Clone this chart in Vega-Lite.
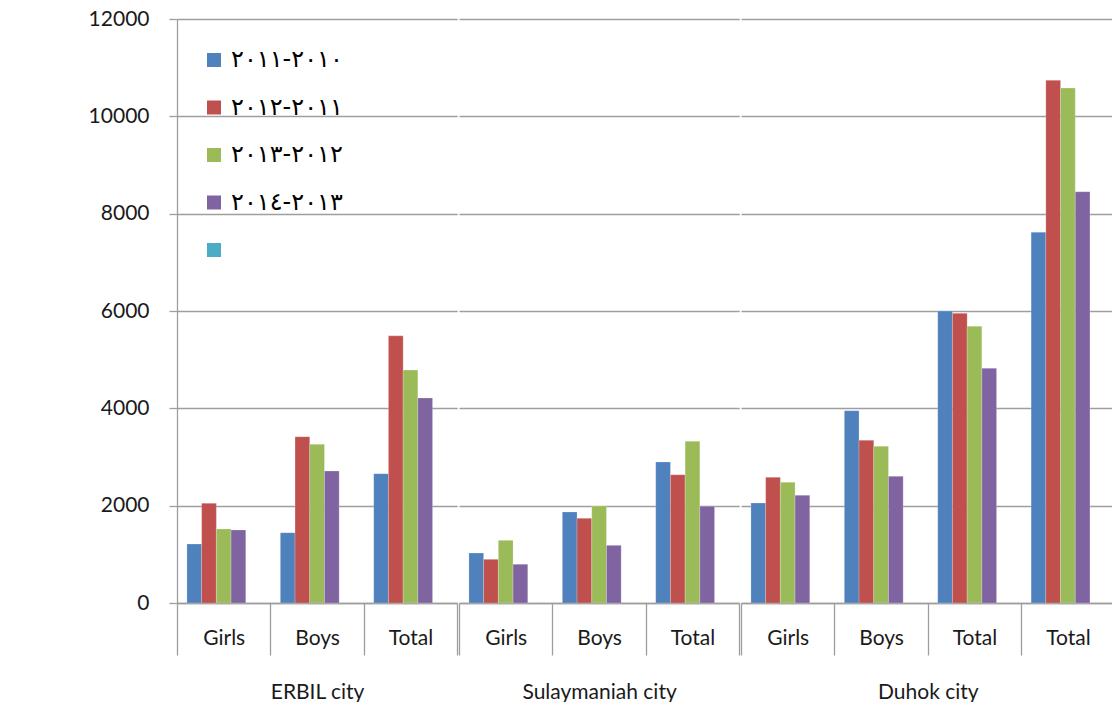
{
  "$schema": "https://vega.github.io/schema/vega-lite/v6.json",
  "padding": {"left": 88, "top": 8, "right": 0, "bottom": 0},
  "background": "white",
  "data": {"values": [
    {"city": "ERBIL city", "cat": "Girls", "period": "٢٠١٠-٢٠١١", "value": 1212},
    {"city": "ERBIL city", "cat": "Girls", "period": "٢٠١١-٢٠١٢", "value": 2048},
    {"city": "ERBIL city", "cat": "Girls", "period": "٢٠١٢-٢٠١٣", "value": 1520},
    {"city": "ERBIL city", "cat": "Girls", "period": "٢٠١٣-٢٠١٤", "value": 1500},
    {"city": "ERBIL city", "cat": "Boys", "period": "٢٠١٠-٢٠١١", "value": 1445},
    {"city": "ERBIL city", "cat": "Boys", "period": "٢٠١١-٢٠١٢", "value": 3418},
    {"city": "ERBIL city", "cat": "Boys", "period": "٢٠١٢-٢٠١٣", "value": 3260},
    {"city": "ERBIL city", "cat": "Boys", "period": "٢٠١٣-٢٠١٤", "value": 2712},
    {"city": "ERBIL city", "cat": "Total", "period": "٢٠١٠-٢٠١١", "value": 2657},
    {"city": "ERBIL city", "cat": "Total", "period": "٢٠١١-٢٠١٢", "value": 5490},
    {"city": "ERBIL city", "cat": "Total", "period": "٢٠١٢-٢٠١٣", "value": 4787},
    {"city": "ERBIL city", "cat": "Total", "period": "٢٠١٣-٢٠١٤", "value": 4212},
    {"city": "Sulaymaniah city", "cat": "Girls", "period": "٢٠١٠-٢٠١١", "value": 1027},
    {"city": "Sulaymaniah city", "cat": "Girls", "period": "٢٠١١-٢٠١٢", "value": 898},
    {"city": "Sulaymaniah city", "cat": "Girls", "period": "٢٠١٢-٢٠١٣", "value": 1288},
    {"city": "Sulaymaniah city", "cat": "Girls", "period": "٢٠١٣-٢٠١٤", "value": 795},
    {"city": "Sulaymaniah city", "cat": "Boys", "period": "٢٠١٠-٢٠١١", "value": 1870},
    {"city": "Sulaymaniah city", "cat": "Boys", "period": "٢٠١١-٢٠١٢", "value": 1740},
    {"city": "Sulaymaniah city", "cat": "Boys", "period": "٢٠١٢-٢٠١٣", "value": 1993},
    {"city": "Sulaymaniah city", "cat": "Boys", "period": "٢٠١٣-٢٠١٤", "value": 1185},
    {"city": "Sulaymaniah city", "cat": "Total", "period": "٢٠١٠-٢٠١١", "value": 2897},
    {"city": "Sulaymaniah city", "cat": "Total", "period": "٢٠١١-٢٠١٢", "value": 2636},
    {"city": "Sulaymaniah city", "cat": "Total", "period": "٢٠١٢-٢٠١٣", "value": 3322},
    {"city": "Sulaymaniah city", "cat": "Total", "period": "٢٠١٣-٢٠١٤", "value": 1986},
    {"city": "Duhok city", "cat": "Girls", "period": "٢٠١٠-٢٠١١", "value": 2055},
    {"city": "Duhok city", "cat": "Girls", "period": "٢٠١١-٢٠١٢", "value": 2582},
    {"city": "Duhok city", "cat": "Girls", "period": "٢٠١٢-٢٠١٣", "value": 2480},
    {"city": "Duhok city", "cat": "Girls", "period": "٢٠١٣-٢٠١٤", "value": 2213},
    {"city": "Duhok city", "cat": "Boys", "period": "٢٠١٠-٢٠١١", "value": 3952},
    {"city": "Duhok city", "cat": "Boys", "period": "٢٠١١-٢٠١٢", "value": 3343},
    {"city": "Duhok city", "cat": "Boys", "period": "٢٠١٢-٢٠١٣", "value": 3220},
    {"city": "Duhok city", "cat": "Boys", "period": "٢٠١٣-٢٠١٤", "value": 2603},
    {"city": "Duhok city", "cat": "Total", "period": "٢٠١٠-٢٠١١", "value": 6000},
    {"city": "Duhok city", "cat": "Total", "period": "٢٠١١-٢٠١٢", "value": 5952},
    {"city": "Duhok city", "cat": "Total", "period": "٢٠١٢-٢٠١٣", "value": 5685},
    {"city": "Duhok city", "cat": "Total", "period": "٢٠١٣-٢٠١٤", "value": 4822},
    {"city": "Duhok city", "cat": "Total ", "period": "٢٠١٠-٢٠١١", "value": 7620},
    {"city": "Duhok city", "cat": "Total ", "period": "٢٠١١-٢٠١٢", "value": 10740},
    {"city": "Duhok city", "cat": "Total ", "period": "٢٠١٢-٢٠١٣", "value": 10582},
    {"city": "Duhok city", "cat": "Total ", "period": "٢٠١٣-٢٠١٤", "value": 8451}
  ]},
  "spacing": 0,
  "resolve": {"scale": {"x": "independent", "xOffset": "independent", "y": "shared", "color": "shared"}, "axis": {"x": "independent", "y": "independent"}},
  "hconcat": [
    {
      "width": 280.2, "height": 584,
      "transform": [{"filter": "datum.city === 'ERBIL city'"}],
      "mark": {"type": "bar", "stroke": "white", "strokeOpacity": 0.35, "strokeWidth": 0.6},
      "encoding": {
        "x": {
          "field": "cat", "type": "nominal", "sort": ["Girls", "Boys", "Total"],
          "scale": {"paddingInner": 0, "paddingOuter": 0},
          "axis": {"title": "ERBIL city", "labelAngle": 0, "tickBand": "extent", "tickSize": 52, "labelPadding": -17, "labelBaseline": "middle", "titleY": 95, "titleBaseline": "alphabetic",
            "encode": {"ticks": {"update": {"y2": {"signal": "datum.value === 'Girls' ? 102 : 52"}}}}}
        },
        "xOffset": {"field": "period", "type": "nominal", "scale": {"domain": ["٢٠١٠-٢٠١١", "٢٠١١-٢٠١٢", "٢٠١٢-٢٠١٣", "٢٠١٣-٢٠١٤", " "], "paddingInner": 0, "paddingOuter": 0.675}},
        "y": {
          "field": "value", "type": "quantitative", "scale": {"domain": [0, 12000], "nice": false},
          "axis": {"title": null, "values": [0, 2000, 4000, 6000, 8000, 10000, 12000], "format": "d", "tickSize": 8, "labelPadding": 20}
        },
        "color": {
          "field": "period", "type": "nominal",
          "scale": {"domain": ["٢٠١٠-٢٠١١", "٢٠١١-٢٠١٢", "٢٠١٢-٢٠١٣", "٢٠١٣-٢٠١٤", " "], "range": ["#4F81BD", "#C0504D", "#9BBB59", "#8064A2", "#4BACC6"]},
          "legend": {"title": null, "orient": "none", "legendX": 25, "legendY": 29, "symbolType": "square", "symbolSize": 196, "symbolStrokeWidth": 0, "labelFont": "DejaVu Sans", "labelFontSize": 24, "labelColor": "#000000", "labelOffset": 5, "rowPadding": 23.5}
        }
      }
    },
    {
      "width": 280.2, "height": 584,
      "transform": [{"filter": "datum.city === 'Sulaymaniah city'"}],
      "mark": {"type": "bar", "stroke": "white", "strokeOpacity": 0.35, "strokeWidth": 0.6},
      "encoding": {
        "x": {
          "field": "cat", "type": "nominal", "sort": ["Girls", "Boys", "Total"],
          "scale": {"paddingInner": 0, "paddingOuter": 0},
          "axis": {"title": "Sulaymaniah city", "labelAngle": 0, "tickBand": "extent", "tickSize": 52, "labelPadding": -17, "labelBaseline": "middle", "titleY": 95, "titleBaseline": "alphabetic",
            "encode": {"ticks": {"update": {"y2": {"signal": "datum.value === 'Girls' ? 102 : 52"}}}}}
        },
        "xOffset": {"field": "period", "type": "nominal", "scale": {"domain": ["٢٠١٠-٢٠١١", "٢٠١١-٢٠١٢", "٢٠١٢-٢٠١٣", "٢٠١٣-٢٠١٤", " "], "paddingInner": 0, "paddingOuter": 0.675}},
        "y": {
          "field": "value", "type": "quantitative", "scale": {"domain": [0, 12000], "nice": false},
          "axis": {"title": null, "values": [0, 2000, 4000, 6000, 8000, 10000, 12000], "labels": false, "ticks": false, "domain": false}
        },
        "color": {"field": "period", "type": "nominal"}
      }
    },
    {
      "width": 373.6, "height": 584,
      "transform": [{"filter": "datum.city === 'Duhok city'"}],
      "mark": {"type": "bar", "stroke": "white", "strokeOpacity": 0.35, "strokeWidth": 0.6},
      "encoding": {
        "x": {
          "field": "cat", "type": "nominal", "sort": ["Girls", "Boys", "Total", "Total "],
          "scale": {"paddingInner": 0, "paddingOuter": 0},
          "axis": {"title": "Duhok city", "labelAngle": 0, "tickBand": "extent", "tickSize": 52, "labelPadding": -17, "labelBaseline": "middle", "titleY": 95, "titleBaseline": "alphabetic",
            "encode": {"ticks": {"update": {"y2": {"signal": "datum.value === 'Girls' ? 102 : 52"}}}}}
        },
        "xOffset": {"field": "period", "type": "nominal", "scale": {"domain": ["٢٠١٠-٢٠١١", "٢٠١١-٢٠١٢", "٢٠١٢-٢٠١٣", "٢٠١٣-٢٠١٤", " "], "paddingInner": 0, "paddingOuter": 0.675}},
        "y": {
          "field": "value", "type": "quantitative", "scale": {"domain": [0, 12000], "nice": false},
          "axis": {"title": null, "values": [0, 2000, 4000, 6000, 8000, 10000, 12000], "labels": false, "ticks": false, "domain": false}
        },
        "color": {"field": "period", "type": "nominal"}
      }
    }
  ],
  "config": {
    "view": {"stroke": null},
    "axis": {
      "labelFont": "Lato", "labelFontSize": 21, "labelColor": "#1a1a1a",
      "titleFont": "Lato", "titleFontSize": 21, "titleColor": "#1a1a1a", "titleFontWeight": "normal",
      "tickColor": "#9e9e9e", "domainColor": "#9e9e9e", "gridColor": "#9e9e9e",
      "tickWidth": 1.3, "domainWidth": 1.3, "gridWidth": 1.3
    }
  }
}
